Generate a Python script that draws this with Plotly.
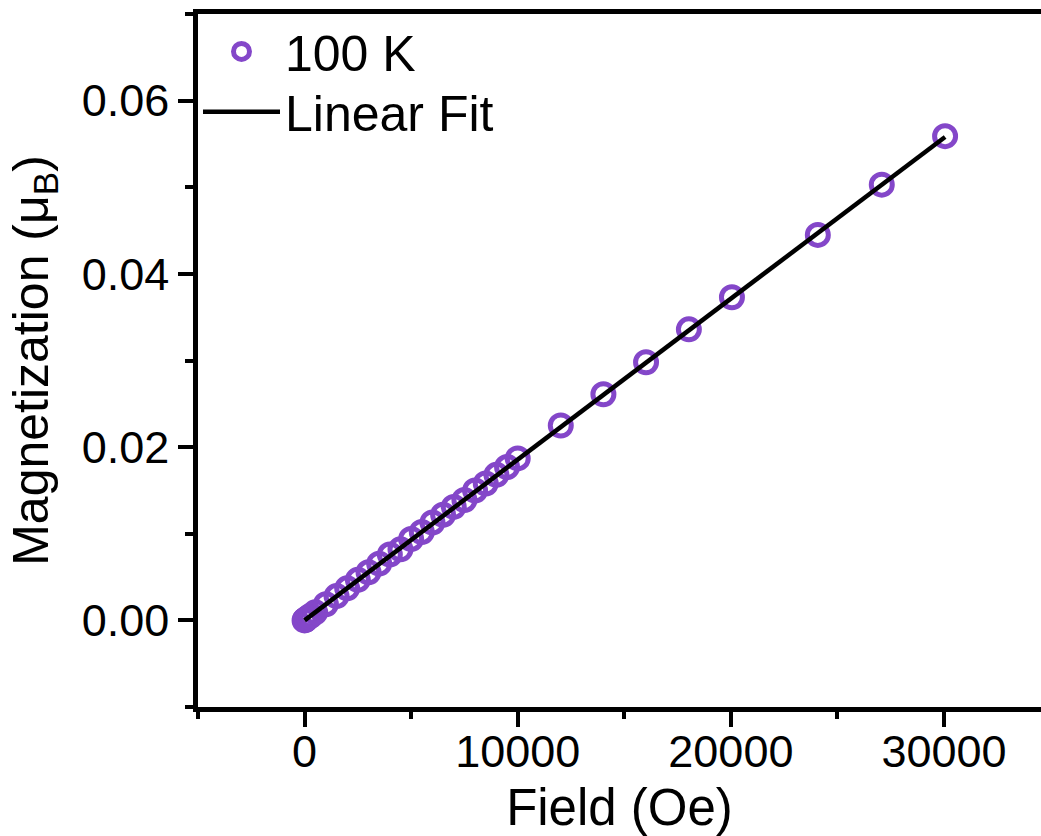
import plotly.graph_objects as go

# Data
field_oe = [0, 20, 50, 100, 200, 300, 500, 1000, 1500, 2000, 2500, 3000, 3500,
            4000, 4500, 5000, 5500, 6000, 6500, 7000, 7500, 8000, 8500, 9000,
            9500, 10000, 12020, 14020, 16020, 18030, 20050, 24080, 27080, 30050]
magnetization = [0.0, 0.00004, 0.0001, 0.0002, 0.0004, 0.00056, 0.00093, 0.00186,
                 0.0028, 0.0037, 0.00468, 0.00555, 0.00655, 0.0076, 0.0082, 0.0094,
                 0.0102, 0.0113, 0.0122, 0.0131, 0.0139, 0.0150, 0.0158, 0.0168,
                 0.0177, 0.0187, 0.0225, 0.0261, 0.0298, 0.0336, 0.0373, 0.0445,
                 0.0503, 0.0559]
fit_field = [0, 30050]
fit_mag = [0.0, 0.0558]

x_ticks = [0, 10000, 20000, 30000]
x_ticklabels = ["0", "10000", "20000", "30000"]
y_ticks = [0.0, 0.02, 0.04, 0.06]
y_ticklabels = ["0.00", "0.02", "0.04", "0.06"]

PURPLE = "#8447C9"
FONT = "Arial, Liberation Sans, sans-serif"

fig = go.Figure()
fig.add_trace(go.Scatter(
    x=field_oe, y=magnetization, mode="markers", name="100 K", legend="legend",
    marker=dict(symbol="circle-open", size=21, color=PURPLE,
                line=dict(width=5, color=PURPLE)),
))
fig.add_trace(go.Scatter(
    x=fit_field, y=fit_mag, mode="lines", name="Linear Fit", legend="legend2",
    line=dict(color="black", width=4.5),
))

axis_common = dict(
    showgrid=False, zeroline=False, showline=True, linewidth=4.5, linecolor="black",
    ticks="outside", ticklen=15, tickwidth=4, tickcolor="black",
    tickfont=dict(family=FONT, size=45, color="black"),
)

fig.update_xaxes(
    range=[-5000, 34550], tickmode="array", tickvals=x_ticks, ticktext=x_ticklabels,
    mirror=True, ticklabelstandoff=-14,
    minor=dict(ticks="outside", ticklen=7, tickwidth=4, tickcolor="black",
               dtick=5000, tick0=-5000),
    title=dict(text="Field (Oe)", font=dict(family=FONT, size=51, color="black"),
               standoff=19),
    **axis_common,
)
fig.update_yaxes(
    range=[-0.01, 0.07], tickmode="array", tickvals=y_ticks, ticktext=y_ticklabels,
    mirror=False,
    minor=dict(ticks="outside", ticklen=8, tickwidth=4, tickcolor="black",
               dtick=0.01, tick0=-0.01),
    title=dict(text="Magnetization (μ<sub>B</sub>)",
               font=dict(family=FONT, size=50, color="black"), standoff=19),
    **axis_common,
)

legend_common = dict(
    xanchor="left", yanchor="middle",
    font=dict(family=FONT, size=50, color="black"),
    bgcolor="rgba(0,0,0,0)", itemwidth=77, tracegroupgap=0,
)

fig.update_layout(
    width=1041, height=836,
    margin=dict(l=198, r=0, t=14, b=129),
    paper_bgcolor="white", plot_bgcolor="white",
    showlegend=True,
    legend=dict(x=0.0, y=0.946, **legend_common),
    legend2=dict(x=0.0, y=0.859, **legend_common),
)

fig.write_html("out.html")
